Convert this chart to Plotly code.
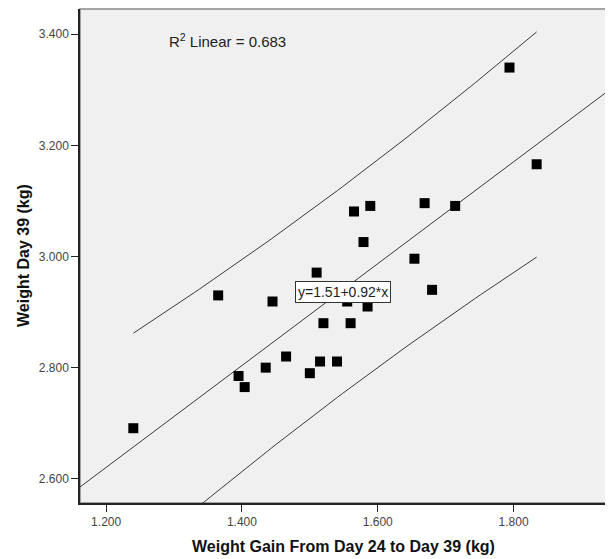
import numpy as np
import plotly.graph_objects as go

# Weight gain from day 24 to day 39 (kg)
gain = [1.794, 1.834, 1.565, 1.589, 1.669, 1.714, 1.579, 1.654, 1.510,
        1.365, 1.445, 1.680, 1.555, 1.585, 1.520, 1.560, 1.465, 1.435,
        1.515, 1.540, 1.500, 1.395, 1.404, 1.240]
# Weight at day 39 (kg)
weight39 = [3.340, 3.166, 3.081, 3.091, 3.096, 3.091, 3.026, 2.996, 2.971,
            2.930, 2.919, 2.940, 2.919, 2.910, 2.880, 2.880, 2.820, 2.800,
            2.811, 2.811, 2.790, 2.785, 2.765, 2.691]

x_ticks = [1.2, 1.4, 1.6, 1.8]
x_tick_labels = ["1.200", "1.400", "1.600", "1.800"]
y_ticks = [2.6, 2.8, 3.0, 3.2, 3.4]
y_tick_labels = ["2.600", "2.800", "3.000", "3.200", "3.400"]

x_title = "Weight Gain From Day 24 to Day 39 (kg)"
y_title = "Weight Day 39 (kg)"
r2_text = "R<sup>2</sup> Linear = 0.683"
eq_text = "y=1.51+0.92*x"
eq_pos = (1.549, 2.936)

x_range = [1.1615, 1.9376]
y_range = [2.5564, 3.4454]

# ---- regression and 95% prediction interval computed from the data ----
xa = np.array(gain)
ya = np.array(weight39)
n = len(xa)
slope, intercept = np.polyfit(xa, ya, 1)
resid = ya - (intercept + slope * xa)
s = np.sqrt(np.sum(resid ** 2) / (n - 2))
sxx = np.sum((xa - xa.mean()) ** 2)
t_crit = 2.0739  # t(0.975, df=22)

xb = np.linspace(xa.min(), xa.max(), 80)
yb = intercept + slope * xb
half = t_crit * s * np.sqrt(1 + 1 / n + (xb - xa.mean()) ** 2 / sxx)

xf = np.array(x_range)
yf = intercept + slope * xf

FONT = "Liberation Sans, Arial"
line_col = "#3a3a3a"
fig = go.Figure()
fig.add_trace(go.Scatter(x=xb, y=yb + half, mode="lines",
                         line=dict(color=line_col, width=1), hoverinfo="skip"))
fig.add_trace(go.Scatter(x=xb, y=yb - half, mode="lines",
                         line=dict(color=line_col, width=1), hoverinfo="skip"))
fig.add_trace(go.Scatter(x=xf, y=yf, mode="lines",
                         line=dict(color=line_col, width=1), hoverinfo="skip"))
fig.add_trace(go.Scatter(x=gain, y=weight39, mode="markers",
                         marker=dict(symbol="square", size=10, color="black",
                                     line=dict(width=0))))

fig.add_annotation(x=0.166, y=0.9367, xref="paper", yref="paper",
                   text=r2_text, showarrow=False, xanchor="left", yanchor="middle",
                   font=dict(family=FONT, size=15, color="#222"))
fig.add_annotation(x=eq_pos[0], y=eq_pos[1], xref="x", yref="y",
                   text=eq_text, showarrow=False, xanchor="center", yanchor="middle",
                   bgcolor="white", bordercolor="#333", borderwidth=1, borderpad=2,
                   font=dict(family=FONT, size=14, color="#222"))
fig.add_annotation(x=0.5, y=0, xref="paper", yref="paper", yshift=-43,
                   text="<b>" + x_title + "</b>", showarrow=False,
                   xanchor="center", yanchor="middle",
                   font=dict(family=FONT, size=16, color="#111"))
fig.add_annotation(x=0, y=0.5, xref="paper", yref="paper", xshift=-57,
                   text="<b>" + y_title + "</b>", showarrow=False, textangle=-90,
                   xanchor="center", yanchor="middle",
                   font=dict(family=FONT, size=16, color="#111"))

fig.add_shape(type="rect", xref="paper", yref="paper", x0=0, x1=1, y0=0, y1=1,
              line=dict(color="#888", width=1.5), layer="below")

axis_common = dict(showgrid=False, zeroline=False, showline=True,
                   linecolor="#222", linewidth=1.5, ticks="outside", ticklen=7,
                   tickcolor="#222", tickwidth=1, automargin=False,
                   tickfont=dict(family=FONT, size=12, color="#444"))

# page body adds an 8px offset, so the figure is sized to fit the window
fig.update_layout(
    width=605, height=551,
    margin=dict(l=72, r=6, t=1, b=56),
    paper_bgcolor="white", plot_bgcolor="#f0f0f0",
    showlegend=False,
    font=dict(family=FONT),
    xaxis=dict(range=x_range, tickvals=x_ticks, ticktext=x_tick_labels,
               **axis_common),
    yaxis=dict(range=y_range, tickvals=y_ticks, ticktext=y_tick_labels,
               **axis_common),
)

fig.write_html("out.html")
